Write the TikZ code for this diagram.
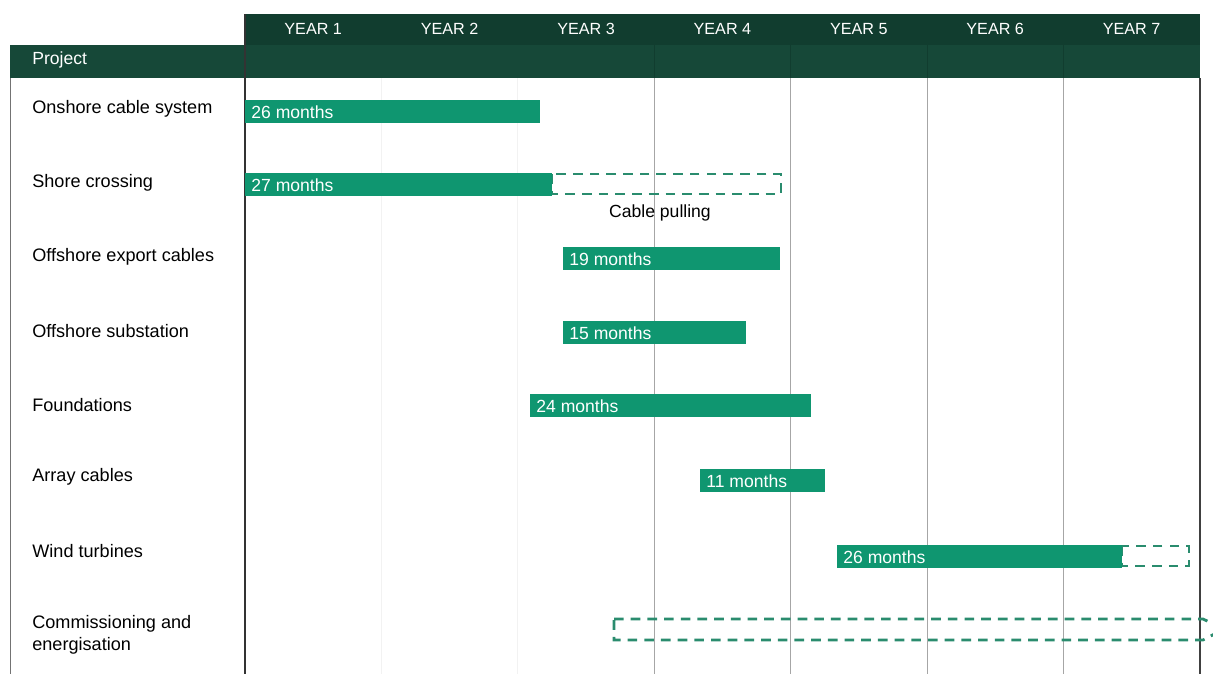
\documentclass[tikz,border=0pt]{standalone}
\usepackage{fontspec}
\setmainfont{Liberation Sans}
\definecolor{headdark}{HTML}{113D2F}
\definecolor{headrow}{HTML}{164838}
\definecolor{bargreen}{HTML}{0F9670}
\definecolor{plangreen}{HTML}{2A8C6E}
\begin{document}
\begin{tikzpicture}[x=0.02cm,y=-0.02cm,
  bar/.style={fill=bargreen},
  plan/.style={draw=plangreen,line width=1.6pt,dash pattern=on 5.5pt off 4pt},
  rowlabel/.style={anchor=west,inner sep=0pt,align=left,font=\fontsize{10.3}{12.8}\selectfont},
  barlabel/.style={anchor=west,inner sep=0pt,text=white,font=\fontsize{10}{11}\selectfont},
  yearlabel/.style={inner sep=0pt,text=white,font=\fontsize{9.2}{11}\selectfont}]
 \useasboundingbox (0,0) rectangle (1213,674);
 % header bands
 \fill[headdark] (245,14) rectangle (1200,45);
 \fill[headrow] (10,45) rectangle (1200,78);
 \node[anchor=west,inner sep=0pt,text=white,font=\fontsize{10}{11}\selectfont] (project) at (32,60) {Project};
 \foreach \i in {1,...,7}
   \node[yearlabel] (year\i) at ({245+(\i-0.5)*136.4},29) {YEAR \i};
 % grid
 \foreach \i in {1,2}
   \draw[black!5] ({245+\i*136.4},78) -- ({245+\i*136.4},674);
 \foreach \i in {3,...,6} {
   \draw[black!35,line width=0.5pt] ({245+\i*136.4},78) -- ({245+\i*136.4},674);
   \draw[headdark,line width=0.5pt] ({245+\i*136.4},45) -- ({245+\i*136.4},78);
 }
 \draw[black!55,line width=0.5pt] (10,78) -- (10,674);
 \draw[black!80,line width=0.7pt] (245,14) -- (245,674);
 \draw[black!75,line width=0.7pt] (1200,78) -- (1200,674);
 % row labels
 \node[rowlabel] (onshore) at (32,109) {Onshore cable system};
 \node[rowlabel] (shore) at (32,183) {Shore crossing};
 \node[rowlabel] (export) at (32,257) {Offshore export cables};
 \node[rowlabel] (substation) at (32,331) {Offshore substation};
 \node[rowlabel] (foundations) at (32,405) {Foundations};
 \node[rowlabel] (array) at (32,477) {Array cables};
 \node[rowlabel] (turbines) at (32,551) {Wind turbines};
 \node[rowlabel] (commissioning) at (32,635) {Commissioning and\\energisation};
 % bars
 \fill[bar] (245,100) rectangle (540,123);
 \node[barlabel] (onshorebar) at (251,112) {26 months};
 \draw[plan] (552,174) rectangle (781,194);
 \fill[bar] (245,173) rectangle (552,196);
 \node[barlabel] (shorebar) at (251,185) {27 months};
 \node[inner sep=0pt,font=\fontsize{10}{11}\selectfont] (pulling) at (660,213) {Cable pulling};
 \fill[bar] (563,247) rectangle (780,270);
 \node[barlabel] (exportbar) at (569,259) {19 months};
 \fill[bar] (563,321) rectangle (746,344);
 \node[barlabel] (substationbar) at (569,333) {15 months};
 \fill[bar] (530,394) rectangle (811,417);
 \node[barlabel] (foundationsbar) at (536,406) {24 months};
 \fill[bar] (700,469) rectangle (825,492);
 \node[barlabel] (arraybar) at (706,481) {11 months};
 \draw[plan] (1122,546) rectangle (1189,566);
 \fill[bar] (837,545) rectangle (1122,568);
 \node[barlabel] (turbinesbar) at (843,557) {26 months};
 \begin{scope}
  \clip (0,0) rectangle (1213,674);
  \draw[plan] (614,619) -- (1203,619) -- (1224,629) -- (1203,640) -- (614,640) -- cycle;
 \end{scope}
\end{tikzpicture}
\end{document}
